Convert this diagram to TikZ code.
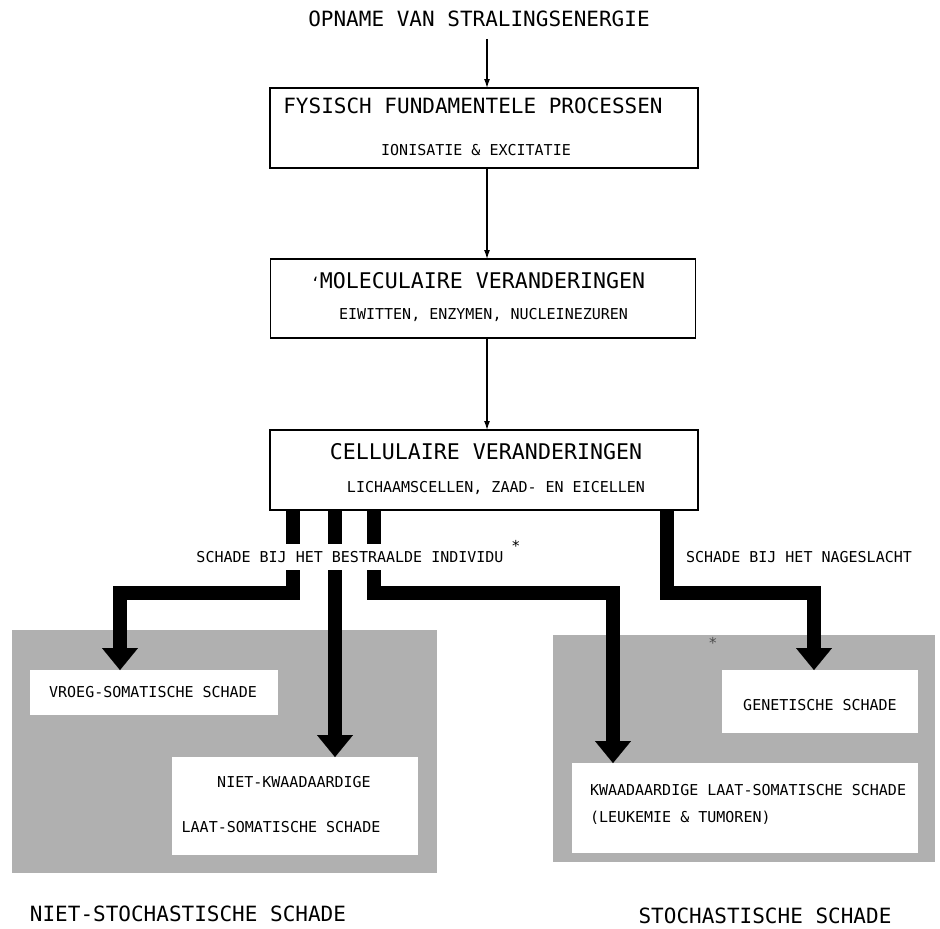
\documentclass[tikz,border=0pt]{standalone}
\usepackage{fontspec}
\setmonofont{DejaVu Sans Mono}
\usetikzlibrary{arrows.meta}
\begin{document}
\begin{tikzpicture}[x=1pt,y=-1pt,
  every node/.style={inner sep=0pt, outer sep=0pt},
  bigt/.style={font=\ttfamily\fontsize{21}{21}\selectfont},
  bigu/.style={font=\ttfamily\fontsize{21.6}{21.6}\selectfont},
  smallt/.style={font=\ttfamily\fontsize{15}{15}\selectfont},
  mainbox/.style={draw, line width=1.4pt, fill=white},
  whitebox/.style={fill=white},
  shadearea/.style={fill=black!31},
  thinarr/.style={line width=1.2pt, -{Latex[length=9pt,width=6pt]}},
  fatarr/.style={line width=14pt, line join=miter, -{Triangle[length=22pt,width=36pt,line width=0.1pt]}}
]
\useasboundingbox (0,0) rectangle (940,929);

% title and main boxes
\node[bigt] (title) at (479,19) {OPNAME VAN STRALINGSENERGIE};

\node[mainbox, minimum width=428pt, minimum height=80pt] (box1) at (484,128) {};
\node[bigt] (t1a) at (473,106) {FYSISCH FUNDAMENTELE PROCESSEN};
\node[smallt] (t1b) at (476,150) {IONISATIE \& EXCITATIE};

\node[mainbox, minimum width=425pt, minimum height=79pt] (box2) at (483,298.5) {};
\node[bigu] (t2a) at (482.5,281) {\llap{\fontsize{15}{15}\selectfont ‘}MOLECULAIRE VERANDERINGEN};
\node[smallt] (t2b) at (483.5,315) {EIWITTEN, ENZYMEN, NUCLEINEZUREN};

\node[mainbox, minimum width=428pt, minimum height=80pt] (box3) at (484,470) {};
\node[bigu] (t3a) at (486,452) {CELLULAIRE VERANDERINGEN};
\node[smallt] (t3b) at (496,488) {LICHAAMSCELLEN, ZAAD- EN EICELLEN};

\coordinate (ax) at (487,0);
\draw[thinarr, shorten <=12pt] (title.south -| ax) -- (box1.north -| ax);
\draw[thinarr] (box1.south -| ax) -- (box2.north -| ax);
\draw[thinarr] (box2.south -| ax) -- (box3.north -| ax);

% shaded areas
\node[shadearea, minimum width=425pt, minimum height=243pt] (regL) at (224.5,751.5) {};
\node[shadearea, minimum width=382pt, minimum height=227pt] (regR) at (744,748.5) {};

% result boxes
\node[whitebox, minimum width=248pt, minimum height=45pt] (vroeg) at (154,692.5) {};
\node[smallt] (vroegt) at (153,692) {VROEG-SOMATISCHE SCHADE};

\node[whitebox, minimum width=246pt, minimum height=98pt] (nietk) at (295,806) {};
\node[smallt] (nietka) at (294,782) {NIET-KWAADAARDIGE};
\node[smallt] (nietkb) at (281,827) {LAAT-SOMATISCHE SCHADE};

\node[whitebox, minimum width=196pt, minimum height=63pt] (gen) at (820,701.5) {};
\node[smallt] (gent) at (820,705) {GENETISCHE SCHADE};

\node[whitebox, minimum width=346pt, minimum height=90pt] (kwaad) at (745,808) {};
\node[smallt, anchor=west] (kwaada) at (590,790) {KWAADAARDIGE LAAT-SOMATISCHE SCHADE};
\node[smallt, anchor=west] (kwaadb) at (590,818) {(LEUKEMIE \& TUMOREN)};

% thick connectors
\coordinate (x1) at (293,0);
\coordinate (x2) at (335,0);
\coordinate (x3) at (374,0);
\coordinate (x4) at (667,0);
\coordinate (h1) at (120,593);
\coordinate (h3) at (613,593);
\coordinate (h4) at (814,593);
\draw[fatarr] (box3.south -| x1) |- (h1) -- (vroeg.north -| h1);
\draw[fatarr] (box3.south -| x2) -- (nietk.north -| x2);
\draw[fatarr] (box3.south -| x3) |- (h3) -- (kwaad.north -| h3);
\draw[fatarr] (box3.south -| x4) |- (h4) -- (gen.north -| h4);

% labels
\node[smallt, fill=white, minimum height=26pt, inner xsep=3pt] (lab1) at (350,557) {SCHADE BIJ HET BESTRAALDE INDIVIDU};
\node[smallt] (ast1) at (516,546) {*};
\node[smallt] (lab2) at (799,557) {SCHADE BIJ HET NAGESLACHT};
\node[smallt, text=black!70] (ast2) at (713,643) {*};

\node[bigt] (ns) at (188,914) {NIET-STOCHASTISCHE SCHADE};
\node[bigt] (st) at (765,916) {STOCHASTISCHE SCHADE};
\end{tikzpicture}
\end{document}
